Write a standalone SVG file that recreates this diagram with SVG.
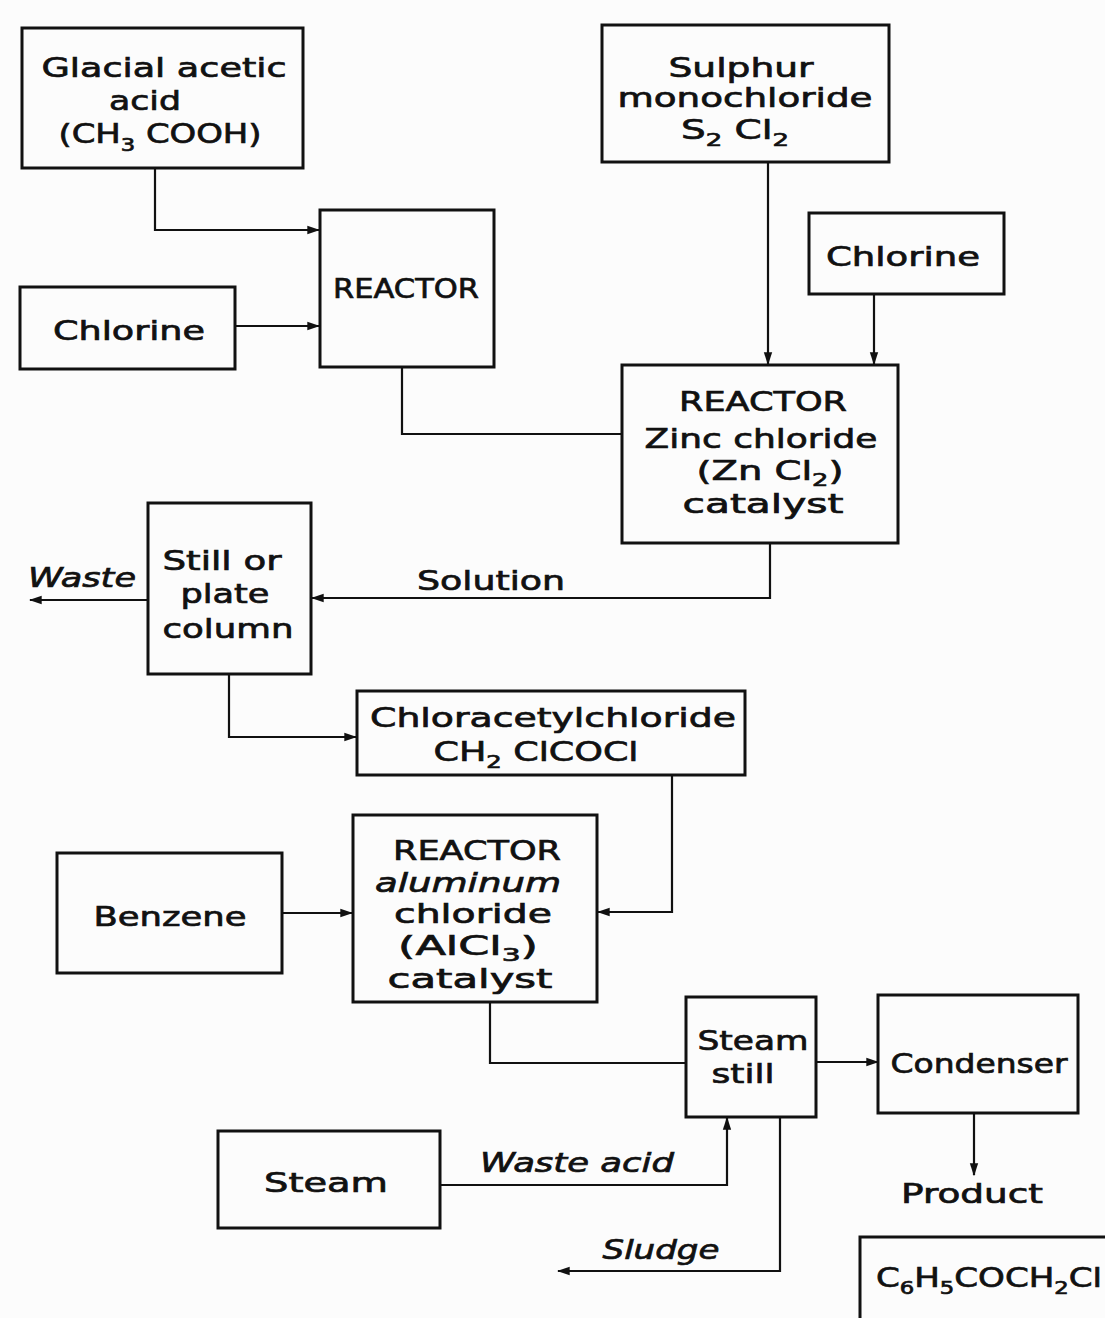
<svg xmlns="http://www.w3.org/2000/svg" width="1105" height="1318" viewBox="0 0 1105 1318">
<style>
.box{fill:none;stroke:#111;stroke-width:3}
.t{font-family:"DejaVu Sans",sans-serif;font-size:27px;fill:#111;stroke:#111;stroke-width:0.7;text-anchor:middle}
.i{font-style:italic}
.s{font-size:18px}
.c{fill:none;stroke:#111;stroke-width:2.2}
</style>
<defs>
<marker id="ah" viewBox="0 0 10 10" refX="9" refY="5" markerWidth="13" markerHeight="13" markerUnits="userSpaceOnUse" orient="auto"><path d="M0,1.8 L10,5 L0,8.2 z" fill="#111"/></marker>
</defs>
<rect width="1105" height="1318" fill="#fcfcfc"/>
<g id="connectors">
<path class="c" d="M155,168 V230 H319" marker-end="url(#ah)"/>
<path class="c" d="M235,326 H319" marker-end="url(#ah)"/>
<path class="c" d="M402,367 V434 H622"/>
<path class="c" d="M768,162 V364" marker-end="url(#ah)"/>
<path class="c" d="M874,294 V364" marker-end="url(#ah)"/>
<path class="c" d="M770,543 V598 H312" marker-end="url(#ah)"/>
<path class="c" d="M148,600 H30" marker-end="url(#ah)"/>
<path class="c" d="M229,674 V737 H356" marker-end="url(#ah)"/>
<path class="c" d="M672,775 V912 H598" marker-end="url(#ah)"/>
<path class="c" d="M282,913 H352" marker-end="url(#ah)"/>
<path class="c" d="M490,1002 V1063 H686"/>
<path class="c" d="M816,1062 H878" marker-end="url(#ah)"/>
<path class="c" d="M440,1185 H727 V1118" marker-end="url(#ah)"/>
<path class="c" d="M780,1117 V1271 H558" marker-end="url(#ah)"/>
<path class="c" d="M974,1113 V1175" marker-end="url(#ah)"/>
<text class="t" x="491" y="590" textLength="148" lengthAdjust="spacingAndGlyphs">Solution</text>
<text class="t i" x="82" y="587" textLength="108" lengthAdjust="spacingAndGlyphs">Waste</text>
<text class="t i" x="577" y="1172" textLength="194" lengthAdjust="spacingAndGlyphs">Waste acid</text>
<text class="t i" x="661" y="1259" textLength="117" lengthAdjust="spacingAndGlyphs">Sludge</text>
<text class="t" x="972" y="1203" textLength="142" lengthAdjust="spacingAndGlyphs">Product</text>
</g>
<g id="glacial">
<rect class="box" x="22" y="28" width="281" height="140"/>
<text class="t" x="164" y="77" textLength="245" lengthAdjust="spacingAndGlyphs">Glacial acetic</text>
<text class="t" x="145" y="110" textLength="72" lengthAdjust="spacingAndGlyphs">acid</text>
<text class="t" x="160" y="143" textLength="203" lengthAdjust="spacingAndGlyphs">(CH<tspan class="s" dy="8">3</tspan><tspan dy="-8"> COOH)</tspan></text>
</g>
<g id="chlorine1">
<rect class="box" x="20" y="287" width="215" height="82"/>
<text class="t" x="129" y="340" textLength="152" lengthAdjust="spacingAndGlyphs">Chlorine</text>
</g>
<g id="reactor1">
<rect class="box" x="320" y="210" width="174" height="157"/>
<text class="t" x="406" y="298" textLength="146" lengthAdjust="spacingAndGlyphs">REACTOR</text>
</g>
<g id="sulphur">
<rect class="box" x="602" y="25" width="287" height="137"/>
<text class="t" x="741" y="77" textLength="145" lengthAdjust="spacingAndGlyphs">Sulphur</text>
<text class="t" x="745" y="107" textLength="255" lengthAdjust="spacingAndGlyphs">monochloride</text>
<text class="t" x="735" y="139" textLength="108" lengthAdjust="spacingAndGlyphs">S<tspan class="s" dy="7">2</tspan><tspan dy="-7"> Cl</tspan><tspan class="s" dy="7">2</tspan></text>
</g>
<g id="chlorine2">
<rect class="box" x="809" y="213" width="195" height="81"/>
<text class="t" x="903" y="266" textLength="154" lengthAdjust="spacingAndGlyphs">Chlorine</text>
</g>
<g id="reactor2">
<rect class="box" x="622" y="365" width="276" height="178"/>
<text class="t" x="763" y="411" textLength="168" lengthAdjust="spacingAndGlyphs">REACTOR</text>
<text class="t" x="761" y="448" textLength="233" lengthAdjust="spacingAndGlyphs">Zinc chloride</text>
<text class="t" x="770" y="480" textLength="147" lengthAdjust="spacingAndGlyphs">(Zn Cl<tspan class="s" dy="6">2</tspan><tspan dy="-6">)</tspan></text>
<text class="t" x="763" y="513" textLength="161" lengthAdjust="spacingAndGlyphs">catalyst</text>
</g>
<g id="still">
<rect class="box" x="148" y="503" width="163" height="171"/>
<text class="t" x="222" y="570" textLength="119" lengthAdjust="spacingAndGlyphs">Still or</text>
<text class="t" x="225" y="603" textLength="89" lengthAdjust="spacingAndGlyphs">plate</text>
<text class="t" x="228" y="638" textLength="131" lengthAdjust="spacingAndGlyphs">column</text>
</g>
<g id="chloracetyl">
<rect class="box" x="357" y="691" width="388" height="84"/>
<text class="t" x="553" y="727" textLength="366" lengthAdjust="spacingAndGlyphs">Chloracetylchloride</text>
<text class="t" x="536" y="761" textLength="205" lengthAdjust="spacingAndGlyphs">CH<tspan class="s" dy="7">2</tspan><tspan dy="-7"> ClCOCl</tspan></text>
</g>
<g id="reactor3">
<rect class="box" x="353" y="815" width="244" height="187"/>
<text class="t" x="477" y="860" textLength="168" lengthAdjust="spacingAndGlyphs">REACTOR</text>
<text class="t i" x="468" y="892" textLength="186" lengthAdjust="spacingAndGlyphs">aluminum</text>
<text class="t" x="473" y="923" textLength="158" lengthAdjust="spacingAndGlyphs">chloride</text>
<text class="t" x="468" y="955" textLength="140" lengthAdjust="spacingAndGlyphs">(AlCl<tspan class="s" dy="6">3</tspan><tspan dy="-6">)</tspan></text>
<text class="t" x="470" y="988" textLength="165" lengthAdjust="spacingAndGlyphs">catalyst</text>
</g>
<g id="benzene">
<rect class="box" x="57" y="853" width="225" height="120"/>
<text class="t" x="170" y="926" textLength="153" lengthAdjust="spacingAndGlyphs">Benzene</text>
</g>
<g id="steamstill">
<rect class="box" x="686" y="997" width="130" height="120"/>
<text class="t" x="753" y="1050" textLength="111" lengthAdjust="spacingAndGlyphs">Steam</text>
<text class="t" x="743" y="1083" textLength="63" lengthAdjust="spacingAndGlyphs">still</text>
</g>
<g id="condenser">
<rect class="box" x="878" y="995" width="200" height="118"/>
<text class="t" x="979" y="1073" textLength="177" lengthAdjust="spacingAndGlyphs">Condenser</text>
</g>
<g id="steam">
<rect class="box" x="218" y="1131" width="222" height="97"/>
<text class="t" x="326" y="1192" textLength="124" lengthAdjust="spacingAndGlyphs">Steam</text>
</g>
<g id="product">
<path class="box" d="M860,1318 V1237 H1110"/>
<text class="t" x="989" y="1287" textLength="226" lengthAdjust="spacingAndGlyphs">C<tspan class="s" dy="7">6</tspan><tspan dy="-7">H</tspan><tspan class="s" dy="7">5</tspan><tspan dy="-7">COCH</tspan><tspan class="s" dy="7">2</tspan><tspan dy="-7">Cl</tspan></text>
</g>
</svg>
